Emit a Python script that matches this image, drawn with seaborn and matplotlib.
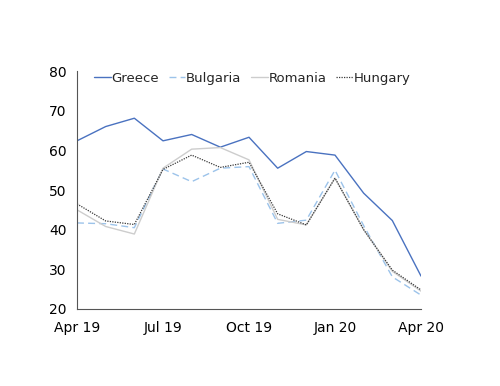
import pandas as pd
import seaborn as sns
import matplotlib.pyplot as plt

months = ["Apr 19", "May 19", "Jun 19", "Jul 19", "Aug 19", "Sep 19", "Oct 19",
          "Nov 19", "Dec 19", "Jan 20", "Feb 20", "Mar 20", "Apr 20"]
greece = [62.4, 66.0, 68.1, 62.4, 64.0, 60.8, 63.3, 55.5, 59.7, 58.8, 49.2, 42.3, 28.3]
bulgaria = [41.7, 41.5, 40.5, 55.3, 52.1, 55.5, 55.9, 41.6, 42.4, 55.0, 41.0, 28.1, 23.5]
romania = [45.0, 40.8, 38.9, 55.5, 60.3, 60.7, 57.6, 42.6, 41.2, 53.0, 40.0, 29.5, 24.5]
hungary = [46.5, 42.2, 41.3, 55.2, 58.8, 55.7, 57.0, 44.0, 41.2, 53.0, 40.0, 29.8, 24.8]
tick_labels = ["Apr 19", "Jul 19", "Oct 19", "Jan 20", "Apr 20"]

series = {"Greece": greece, "Bulgaria": bulgaria, "Romania": romania, "Hungary": hungary}
styles = {
    "Greece": dict(color="#4a72c0", linestyle="-", linewidth=1.0),
    "Bulgaria": dict(color="#9cc3ea", linestyle=(0, (5, 3)), linewidth=1.0),
    "Romania": dict(color="#cdcdcd", linestyle="-", linewidth=1.0),
    "Hungary": dict(color="#3a3a3a", linestyle=(0, (1, 1)), linewidth=0.9),
}

df = pd.DataFrame({"month": list(range(len(months)))})
for name, vals in series.items():
    df[name] = vals

sns.set_style("white")
plt.rcParams['font.family'] = ['DejaVu Sans']

fig = plt.figure(figsize=(5, 3.86), dpi=100)
ax = fig.add_axes([0.154, 0.1995, 0.688, 0.6165])

for name in series:
    sns.lineplot(data=df, x="month", y=name, ax=ax, label=name, **styles[name])

ax.set_xlim(0, 12)
ax.set_ylim(20, 80)
ax.set_xticks([0, 3, 6, 9, 12])
ax.set_xticklabels(tick_labels)
ax.set_yticks(range(20, 81, 10))
ax.set_xlabel("")
ax.set_ylabel("")
ax.tick_params(axis="both", direction="out", length=4, width=0.8, colors="#333333",
               labelsize=10, labelcolor="black")
ax.tick_params(axis="x", pad=5)
for side in ["top", "right"]:
    ax.spines[side].set_visible(False)
for side in ["left", "bottom"]:
    ax.spines[side].set_color("#555555")
    ax.spines[side].set_linewidth(0.8)

ax.legend(loc="upper left", bbox_to_anchor=(0.035, 1.02), ncol=4, frameon=False,
          handlelength=1.25, handletextpad=0.05, columnspacing=0.75, fontsize=9.5,
          borderaxespad=0)

fig.savefig("out.png", dpi=100)
